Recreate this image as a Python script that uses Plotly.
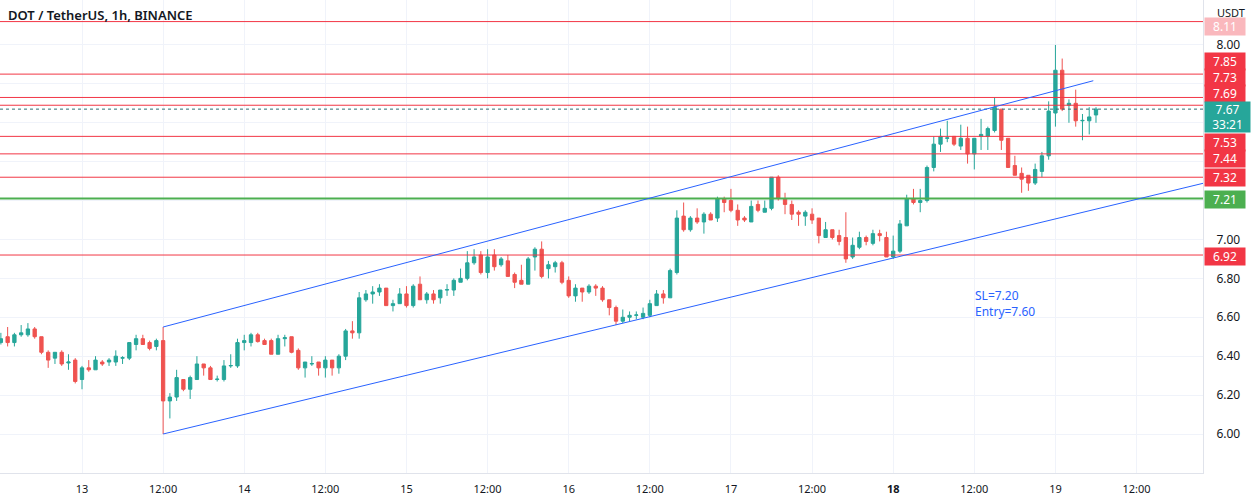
import pandas as pd
import plotly.graph_objects as go

# ---------------- data ----------------
base_day = pd.Timestamp("2022-07-12 00:00")
hours = list(range(12, 175))  # hourly candles, hours since day-12 00:00

opens = [6.47, 6.50, 6.47, 6.51, 6.51, 6.54, 6.50, 6.42, 6.39, 6.42,
         6.365, 6.38, 6.28, 6.34, 6.33, 6.37, 6.37, 6.37, 6.39, 6.39,
         6.46, 6.49, 6.47, 6.45, 6.48, 6.17, 6.19, 6.28, 6.23, 6.28,
         6.36, 6.34, 6.28, 6.28, 6.35, 6.35, 6.47, 6.47, 6.51, 6.48,
         6.48, 6.41, 6.49, 6.50, 6.43, 6.34, 6.36, 6.37, 6.34, 6.38,
         6.34, 6.40, 6.53, 6.52, 6.69, 6.72, 6.73, 6.75, 6.66, 6.67,
         6.72, 6.66, 6.77, 6.69, 6.72, 6.70, 6.74, 6.74, 6.78, 6.80,
         6.88, 6.92, 6.83, 6.92, 6.87, 6.89, 6.82, 6.79, 6.77, 6.91,
         6.95, 6.85, 6.86, 6.88, 6.79, 6.71, 6.75, 6.73, 6.76, 6.75,
         6.69, 6.65, 6.58, 6.60, 6.61, 6.60, 6.61, 6.66, 6.72, 6.70,
         6.83, 7.12, 7.05, 7.11, 7.09, 7.13, 7.11, 7.21, 7.20, 7.15,
         7.11, 7.09, 7.18, 7.14, 7.16, 7.32, 7.21, 7.18, 7.14, 7.12,
         7.13, 7.11, 7.01, 7.05, 7.02, 7.01, 6.91, 6.96, 7.01, 6.98,
         7.03, 7.01, 6.91, 6.94, 7.07, 7.21, 7.19, 7.20, 7.37, 7.49,
         7.52, 7.53, 7.48, 7.52, 7.44, 7.53, 7.53, 7.56, 7.67, 7.52,
         7.38, 7.34, 7.33, 7.29, 7.35, 7.43, 7.65, 7.87, 7.69, 7.70,
         7.61, 7.61, 7.64]
highs = [6.52, 6.55, 6.52, 6.56, 6.57, 6.55, 6.50, 6.43, 6.42, 6.43,
         6.41, 6.39, 6.35, 6.38, 6.40, 6.38, 6.39, 6.43, 6.40, 6.47,
         6.51, 6.51, 6.48, 6.49, 6.55, 6.21, 6.33, 6.28, 6.30, 6.40,
         6.36, 6.35, 6.30, 6.38, 6.41, 6.49, 6.51, 6.52, 6.52, 6.49,
         6.49, 6.51, 6.51, 6.50, 6.44, 6.37, 6.40, 6.37, 6.40, 6.38,
         6.41, 6.54, 6.58, 6.73, 6.74, 6.76, 6.77, 6.75, 6.69, 6.75,
         6.76, 6.77, 6.81, 6.73, 6.74, 6.74, 6.77, 6.80, 6.85, 6.94,
         6.95, 6.94, 6.95, 6.95, 6.91, 6.92, 6.83, 6.87, 6.91, 6.96,
         6.99, 6.89, 6.89, 6.89, 6.81, 6.77, 6.75, 6.77, 6.77, 6.76,
         6.69, 6.66, 6.64, 6.63, 6.63, 6.65, 6.69, 6.74, 6.74, 6.85,
         7.15, 7.19, 7.12, 7.16, 7.14, 7.14, 7.22, 7.22, 7.26, 7.18,
         7.12, 7.20, 7.20, 7.20, 7.32, 7.33, 7.24, 7.20, 7.15, 7.15,
         7.16, 7.11, 7.09, 7.05, 7.05, 7.14, 7.01, 7.04, 7.02, 7.05,
         7.05, 7.04, 7.02, 7.10, 7.23, 7.26, 7.26, 7.38, 7.53, 7.57,
         7.61, 7.53, 7.59, 7.58, 7.52, 7.62, 7.58, 7.73, 7.67, 7.52,
         7.43, 7.37, 7.33, 7.39, 7.45, 7.71, 8.00, 7.93, 7.72, 7.77,
         7.645, 7.68, 7.68]
lows = [6.46, 6.45, 6.45, 6.50, 6.50, 6.49, 6.41, 6.34, 6.36, 6.35,
        6.33, 6.26, 6.23, 6.32, 6.33, 6.35, 6.35, 6.35, 6.36, 6.38,
        6.43, 6.46, 6.43, 6.43, 6.00, 6.08, 6.17, 6.22, 6.18, 6.28,
        6.30, 6.28, 6.27, 6.27, 6.34, 6.34, 6.43, 6.45, 6.47, 6.46,
        6.41, 6.41, 6.45, 6.415, 6.33, 6.29, 6.35, 6.30, 6.29, 6.30,
        6.31, 6.38, 6.49, 6.49, 6.68, 6.67, 6.71, 6.66, 6.63, 6.67,
        6.65, 6.65, 6.69, 6.67, 6.67, 6.67, 6.71, 6.71, 6.78, 6.79,
        6.87, 6.82, 6.80, 6.84, 6.86, 6.81, 6.75, 6.77, 6.77, 6.84,
        6.80, 6.80, 6.83, 6.77, 6.70, 6.68, 6.68, 6.72, 6.71, 6.68,
        6.61, 6.56, 6.57, 6.58, 6.59, 6.59, 6.60, 6.66, 6.67, 6.70,
        6.82, 7.04, 7.04, 7.08, 7.03, 7.10, 7.09, 7.14, 7.14, 7.07,
        7.09, 7.09, 7.14, 7.14, 7.15, 7.20, 7.13, 7.10, 7.07, 7.07,
        7.08, 6.98, 7.01, 7.00, 6.97, 6.88, 6.90, 6.95, 6.97, 6.97,
        6.99, 6.91, 6.90, 6.93, 7.07, 7.18, 7.14, 7.19, 7.35, 7.45,
        7.50, 7.48, 7.46, 7.39, 7.36, 7.46, 7.46, 7.55, 7.46, 7.37,
        7.33, 7.24, 7.25, 7.28, 7.32, 7.41, 7.58, 7.66, 7.60, 7.58,
        7.51, 7.54, 7.60]
closes = [6.49, 6.47, 6.51, 6.52, 6.54, 6.50, 6.42, 6.38, 6.42, 6.36,
          6.37, 6.27, 6.34, 6.33, 6.38, 6.36, 6.38, 6.40, 6.392, 6.47,
          6.49, 6.46, 6.44, 6.48, 6.17, 6.19, 6.29, 6.23, 6.29, 6.36,
          6.34, 6.28, 6.282, 6.35, 6.352, 6.47, 6.48, 6.51, 6.475, 6.46,
          6.41, 6.49, 6.495, 6.42, 6.34, 6.37, 6.362, 6.34, 6.38, 6.34,
          6.40, 6.53, 6.52, 6.70, 6.72, 6.73, 6.75, 6.66, 6.67, 6.72,
          6.66, 6.76, 6.69, 6.72, 6.69, 6.74, 6.742, 6.79, 6.80, 6.88,
          6.91, 6.83, 6.91, 6.86, 6.90, 6.81, 6.78, 6.77, 6.90, 6.95,
          6.81, 6.87, 6.88, 6.78, 6.71, 6.75, 6.73, 6.76, 6.75, 6.69,
          6.65, 6.58, 6.60, 6.61, 6.612, 6.62, 6.67, 6.72, 6.70, 6.84,
          7.11, 7.05, 7.11, 7.09, 7.13, 7.10, 7.21, 7.19, 7.15, 7.10,
          7.10, 7.17, 7.15, 7.16, 7.32, 7.21, 7.18, 7.13, 7.13, 7.14,
          7.10, 7.02, 7.05, 7.01, 6.99, 6.90, 6.97, 7.01, 6.99, 7.03,
          7.02, 6.91, 6.94, 7.08, 7.21, 7.19, 7.20, 7.37, 7.49, 7.53,
          7.522, 7.49, 7.52, 7.44, 7.52, 7.54, 7.57, 7.68, 7.51, 7.37,
          7.33, 7.31, 7.29, 7.36, 7.43, 7.66, 7.87, 7.67, 7.70, 7.61,
          7.612, 7.63, 7.67]

# horizontal levels drawn on the chart
red_levels = [8.12, 7.85, 7.73, 7.69, 7.53, 7.44, 7.32, 6.92]
green_level = 7.21
last_price = 7.67
countdown = "33:21"

# channel trend lines: (hour, price) endpoints
upper_line = [(36, 6.55), (173.6, 7.816)]
lower_line = [(36, 6.00), (190, 7.29)]

note_text = "SL=7.20<br>Entry=7.60"
note_pos = (155.8, 6.672)

y_ticks = [6.0, 6.2, 6.4, 6.6, 6.8, 7.0, 7.2, 7.4, 7.6, 7.8, 8.0]
y_tick_shown = [True, True, True, True, True, True, False, False, False, False, True]
x_tick_hours = list(range(12, 181, 12))
x_tick_text = ["12:00", "13", "12:00", "14", "12:00", "15", "12:00", "16",
               "12:00", "17", "12:00", "<b>18</b>", "12:00", "19", "12:00"]

# ---------------- helpers ----------------
def t(h):
    return base_day + pd.Timedelta(hours=h)

times = [t(h) for h in hours]

UP = "#26a69a"
DOWN = "#ef5350"
RED_LINE = "#f23645"
GREEN_LINE = "#4caf50"
BLUE = "#2962ff"
TXT = "#131722"
GRID = "#f0f3fa"
FONT = "Noto Sans"

PLOT_H = 473  # plot area height in px (for label placement)

fig = go.Figure()
fig.add_trace(go.Candlestick(
    x=times, open=opens, high=highs, low=lows, close=closes,
    increasing=dict(line=dict(color=UP, width=1), fillcolor=UP),
    decreasing=dict(line=dict(color=DOWN, width=1), fillcolor=DOWN),
    whiskerwidth=0, showlegend=False, hoverinfo="skip",
))

shapes = []
for lv in red_levels:
    shapes.append(dict(type="line", xref="paper", x0=0, x1=1, yref="y", y0=lv, y1=lv,
                       line=dict(color=RED_LINE, width=1), layer="above"))
shapes.append(dict(type="line", xref="paper", x0=0, x1=1, yref="y", y0=green_level, y1=green_level,
                   line=dict(color=GREEN_LINE, width=2), layer="above"))
shapes.append(dict(type="line", xref="paper", x0=0, x1=1, yref="y", y0=last_price, y1=last_price,
                   line=dict(color="#2f6f73", width=1, dash="dot"), layer="above"))
for ln in (upper_line, lower_line):
    (h0, p0), (h1, p1) = ln
    shapes.append(dict(type="line", xref="x", yref="y", x0=t(h0), y0=p0, x1=t(h1), y1=p1,
                       line=dict(color=BLUE, width=1), layer="above"))

# right-side price labels (stacked like TradingView)
label_px = {8.12: 27, 7.85: 61, 7.73: 77, 7.69: 93, 7.53: 142, 7.44: 158,
            7.32: 177, 6.92: 256.5}
annotations = []
for lv in red_levels:
    txt = "8.11" if lv == 8.12 else f"{lv:.2f}"
    annotations.append(dict(
        xref="paper", x=1, xanchor="left", xshift=1,
        yref="paper", y=1 - label_px[lv] / PLOT_H, yanchor="middle",
        text=txt, showarrow=False, bgcolor=RED_LINE, width=38, height=15,
        font=dict(color="white", size=12, family=FONT),
        opacity=0.35 if lv == 8.12 else 1))
annotations.append(dict(
    xref="paper", x=1, xanchor="left", xshift=1,
    yref="paper", y=1 - 199 / PLOT_H, yanchor="middle",
    text=f"{green_level:.2f}", showarrow=False, bgcolor=GREEN_LINE, width=38, height=15,
    font=dict(color="white", size=12, family=FONT)))
annotations.append(dict(
    xref="paper", x=1, xanchor="left", xshift=1,
    yref="paper", y=1 - 117 / PLOT_H, yanchor="middle",
    text=f"{last_price:.2f}<br>{countdown}", showarrow=False, bgcolor=UP, width=43, height=28,
    font=dict(color="white", size=12, family=FONT)))
annotations.append(dict(
    xref="paper", x=1, xanchor="left", xshift=12, yref="paper", y=1 - 13 / PLOT_H,
    yanchor="middle", text="USDT", showarrow=False,
    font=dict(color=TXT, size=11, family=FONT)))
annotations.append(dict(
    xref="paper", x=0, xanchor="left", xshift=6, yref="paper", y=1 - 15 / PLOT_H,
    yanchor="middle", text="DOT / TetherUS, 1h, BINANCE", showarrow=False,
    font=dict(color=TXT, size=13, family=FONT, weight=600)))
annotations.append(dict(
    xref="x", x=t(note_pos[0]), xanchor="left", yref="y", y=note_pos[1], yanchor="middle",
    text=note_text, showarrow=False, align="left",
    font=dict(color=BLUE, size=12, family=FONT)))

fig.update_layout(
    width=1260, height=501, autosize=False,
    margin=dict(l=0, r=57, t=0, b=28, pad=0),
    paper_bgcolor="white", plot_bgcolor="white",
    shapes=shapes, annotations=annotations,
    font=dict(family=FONT, color=TXT, size=11),
    xaxis=dict(
        type="date", range=[t(11.87), t(189.83)],
        rangeslider=dict(visible=False),
        tickvals=[t(h) for h in x_tick_hours], ticktext=x_tick_text,
        showgrid=True, gridcolor=GRID, gridwidth=1,
        showline=True, linecolor="#e0e3eb", linewidth=1, mirror=False,
        ticks="", ticklabelstandoff=6, tickfont=dict(size=11, color=TXT),
        zeroline=False, fixedrange=True,
    ),
    yaxis=dict(
        side="right", range=[5.7995, 8.231],
        tickvals=y_ticks,
        ticktext=[f"{v:.2f}" if s else "" for v, s in zip(y_ticks, y_tick_shown)],
        showgrid=True, gridcolor=GRID, gridwidth=1,
        showline=True, linecolor="#e0e3eb", linewidth=1,
        ticks="", ticklabelstandoff=10, tickfont=dict(size=12, color=TXT),
        zeroline=False, fixedrange=True,
    ),
    hovermode=False,
)

fig.write_html(
    "out.html",
    config={"displayModeBar": False},
    post_script="document.body.style.margin='0';document.body.style.overflow='hidden';",
)
